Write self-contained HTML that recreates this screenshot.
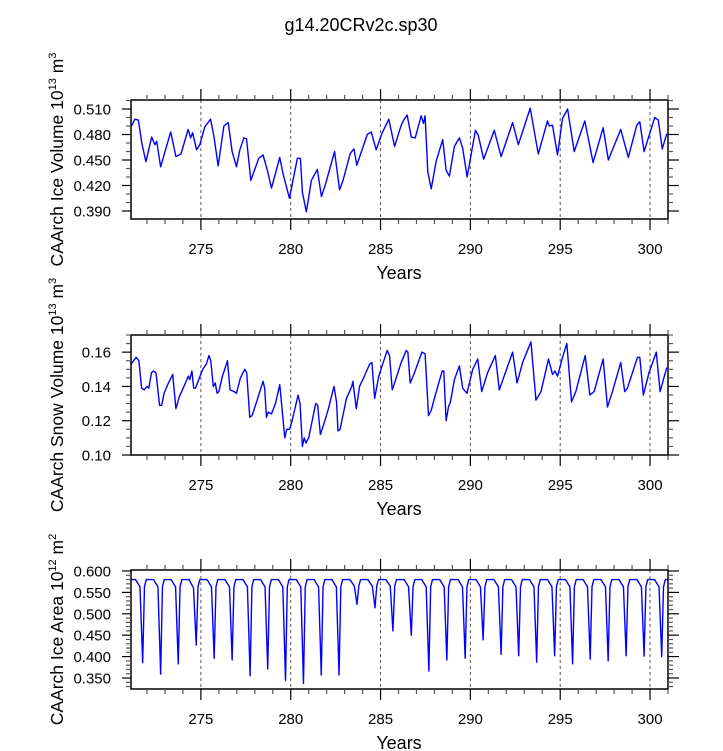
<!DOCTYPE html>
<html><head><meta charset="utf-8"><style>
html,body{margin:0;padding:0;background:#fff;}
svg{display:block;font-family:"Liberation Sans",Arial,sans-serif;}
</style></head><body>
<svg id="chart" width="723" height="751" viewBox="0 0 723 751" xmlns="http://www.w3.org/2000/svg">
<text x="361" y="31" font-size="18" text-anchor="middle">g14.20CRv2c.sp30</text>
</svg>
<script>
const xTickYears = [275, 280, 285, 290, 295, 300];
const iceVolTicks = ["0.390","0.420","0.450","0.480","0.510"];
const snowVolTicks = ["0.10","0.12","0.14","0.16"];
const areaTicks = ["0.350","0.400","0.450","0.500","0.550","0.600"];

const iceVolPts = [[271.11,.489],[271.33,.498],[271.52,.497],[271.71,.470],[271.94,.448],[272.26,.477],[272.44,.468],[272.54,.472],[272.76,.442],[273.32,.483],[273.61,.454],[273.89,.457],[274.29,.486],[274.43,.476],[274.54,.482],[274.76,.462],[274.94,.468],[275.22,.489],[275.54,.498],[275.74,.476],[275.96,.443],[276.28,.490],[276.39,.492],[276.52,.494],[276.74,.460],[276.98,.442],[277.17,.462],[277.39,.476],[277.54,.475],[277.78,.426],[278.22,.452],[278.46,.456],[278.71,.437],[278.93,.417],[279.39,.453],[279.57,.434],[279.93,.405],[280.37,.452],[280.54,.452],[280.65,.412],[280.87,.389],[281.15,.426],[281.48,.439],[281.71,.407],[281.93,.421],[282.44,.460],[282.72,.415],[282.91,.426],[283.32,.458],[283.52,.463],[283.68,.444],[284.26,.480],[284.48,.483],[284.76,.462],[285.07,.481],[285.46,.498],[285.78,.466],[286.15,.491],[286.29,.497],[286.48,.503],[286.71,.477],[286.93,.476],[287.26,.502],[287.39,.493],[287.48,.502],[287.63,.436],[287.82,.416],[288.09,.448],[288.46,.474],[288.65,.438],[288.83,.431],[289.11,.466],[289.39,.476],[289.57,.464],[289.82,.430],[290.28,.485],[290.44,.479],[290.74,.451],[291.33,.485],[291.71,.454],[292.35,.494],[292.67,.468],[293.33,.511],[293.78,.457],[294.29,.496],[294.39,.490],[294.57,.491],[294.85,.456],[295.13,.499],[295.41,.510],[295.78,.460],[296.37,.496],[296.83,.447],[297.39,.488],[297.68,.450],[298.37,.486],[298.79,.453],[299.26,.491],[299.43,.495],[299.67,.460],[300.26,.500],[300.46,.497],[300.68,.463],[300.93,.481]];

const snowVolPts = [[271.11,.153],[271.4,.157],[271.55,.155],[271.7,.139],[271.85,.138],[272.0,.140],[272.1,.139],[272.25,.148],[272.35,.149],[272.5,.148],[272.7,.129],[272.82,.129],[272.95,.136],[273.15,.141],[273.43,.147],[273.61,.127],[273.8,.134],[274.1,.141],[274.3,.146],[274.38,.144],[274.5,.149],[274.6,.139],[274.7,.139],[275.1,.150],[275.3,.153],[275.45,.158],[275.55,.155],[275.69,.140],[275.8,.142],[275.9,.136],[276.0,.137],[276.2,.146],[276.48,.155],[276.62,.138],[276.85,.137],[276.98,.136],[277.2,.145],[277.44,.150],[277.55,.148],[277.72,.122],[277.85,.123],[278.1,.131],[278.46,.143],[278.55,.139],[278.65,.122],[278.75,.125],[278.93,.124],[279.15,.130],[279.39,.141],[279.67,.110],[279.78,.115],[279.94,.115],[280.1,.121],[280.41,.135],[280.52,.130],[280.65,.105],[280.75,.110],[280.85,.107],[281.0,.110],[281.39,.130],[281.5,.129],[281.65,.112],[281.9,.120],[282.1,.127],[282.41,.140],[282.55,.131],[282.63,.114],[282.75,.115],[283.1,.133],[283.4,.140],[283.46,.143],[283.65,.127],[283.83,.140],[284.1,.146],[284.39,.153],[284.52,.154],[284.67,.133],[284.9,.146],[285.37,.161],[285.5,.158],[285.65,.138],[285.78,.142],[286.15,.154],[286.43,.161],[286.52,.160],[286.65,.142],[286.89,.148],[287.30,.160],[287.48,.159],[287.67,.123],[287.82,.126],[287.97,.132],[288.43,.149],[288.52,.149],[288.65,.120],[288.78,.128],[288.89,.131],[289.11,.144],[289.39,.152],[289.57,.139],[289.81,.136],[290.13,.150],[290.41,.156],[290.63,.137],[290.96,.148],[291.39,.158],[291.61,.138],[292.35,.160],[292.6,.142],[292.91,.154],[293.37,.166],[293.65,.132],[293.93,.137],[294.35,.156],[294.57,.147],[294.71,.149],[294.85,.146],[295.13,.157],[295.37,.165],[295.63,.131],[295.87,.137],[296.39,.158],[296.65,.135],[296.89,.137],[297.39,.156],[297.63,.128],[297.91,.137],[298.37,.154],[298.59,.137],[298.74,.139],[299.3,.157],[299.43,.157],[299.63,.135],[299.94,.148],[300.35,.160],[300.56,.137],[300.93,.151]];

const areaPts = [[271.11,.580],[271.36,.580],[271.61,.563],[271.76,.386],[271.86,.563],[271.96,.580],
[272.36,.580],[272.61,.563],[272.76,.359],[272.86,.563],[272.96,.580],
[273.34,.580],[273.59,.563],[273.74,.383],[273.84,.563],[273.94,.580],
[274.34,.580],[274.59,.560],[274.74,.427],[274.84,.563],[274.94,.580],
[275.34,.580],[275.59,.563],[275.74,.396],[275.84,.563],[275.94,.580],
[276.34,.580],[276.59,.563],[276.74,.392],[276.84,.563],[276.94,.580],
[277.34,.580],[277.59,.563],[277.74,.355],[277.84,.563],[277.94,.580],
[278.32,.580],[278.57,.563],[278.72,.371],[278.82,.563],[278.92,.580],
[279.31,.580],[279.56,.563],[279.71,.344],[279.81,.563],[279.91,.580],
[280.31,.580],[280.56,.563],[280.71,.337],[280.81,.563],[280.91,.580],
[281.30,.580],[281.55,.563],[281.70,.357],[281.80,.563],[281.90,.580],
[282.29,.580],[282.54,.563],[282.69,.357],[282.79,.563],[282.89,.580],
[283.29,.580],[283.54,.565],[283.69,.522],[283.79,.565],[283.89,.580],
[284.29,.580],[284.54,.565],[284.69,.514],[284.79,.565],[284.89,.580],
[285.29,.580],[285.54,.565],[285.69,.460],[285.79,.565],[285.89,.580],
[286.31,.580],[286.56,.563],[286.71,.450],[286.81,.563],[286.91,.580],
[287.29,.580],[287.54,.563],[287.69,.366],[287.79,.563],[287.89,.580],
[288.29,.580],[288.54,.563],[288.69,.392],[288.79,.563],[288.89,.580],
[289.31,.580],[289.56,.563],[289.71,.396],[289.81,.563],[289.91,.580],
[290.31,.580],[290.56,.563],[290.71,.439],[290.81,.563],[290.91,.580],
[291.31,.580],[291.56,.563],[291.71,.405],[291.81,.563],[291.91,.580],
[292.29,.580],[292.54,.563],[292.69,.402],[292.79,.563],[292.89,.580],
[293.29,.580],[293.54,.563],[293.69,.387],[293.79,.563],[293.89,.580],
[294.29,.580],[294.54,.563],[294.69,.402],[294.79,.563],[294.89,.580],
[295.29,.580],[295.54,.563],[295.69,.383],[295.79,.563],[295.89,.580],
[296.27,.580],[296.52,.563],[296.67,.394],[296.77,.563],[296.87,.580],
[297.27,.580],[297.52,.563],[297.67,.390],[297.77,.563],[297.87,.580],
[298.27,.580],[298.52,.563],[298.67,.402],[298.77,.563],[298.87,.580],
[299.27,.580],[299.52,.563],[299.67,.401],[299.77,.563],[299.87,.580],
[300.25,.580],[300.50,.563],[300.65,.400],[300.75,.563],[300.85,.580],[301.0,.580]];

const NS = "http://www.w3.org/2000/svg";
const svg = document.getElementById('chart');
const X0 = 131, X1 = 668, YMIN = 271.11, YMAX = 301.0;
function xs(t){ return X0 + (t - YMIN) / (YMAX - YMIN) * (X1 - X0); }
function mk(tag, attrs, parent){
  const e = document.createElementNS(NS, tag);
  for (const k in attrs) e.setAttribute(k, attrs[k]);
  (parent || svg).appendChild(e);
  return e;
}

const panels = [
  {key:'ice-volume', top:100, bot:219, vmin:0.3806, vmax:0.5206, ticks:iceVolTicks, minor:0.01, pts:iceVolPts,
   title:['CAArch Ice Volume 10','13',' m','3']},
  {key:'snow-volume', top:335, bot:455, vmin:0.10, vmax:0.17, ticks:snowVolTicks, minor:0.005, pts:snowVolPts,
   title:['CAArch Snow Volume 10','13',' m','3']},
  {key:'ice-area', top:570, bot:689, vmin:0.3243, vmax:0.6023, ticks:areaTicks, minor:0.01, pts:areaPts,
   title:['CAArch Ice Area 10','12',' m','2']}
];

panels.forEach(p => {
  const g = mk('g', {});
  
  
  const ys = v => p.bot - (v - p.vmin) / (p.vmax - p.vmin) * (p.bot - p.top);

  xTickYears.forEach(t => {
    const l = mk('line', {x1:xs(t), x2:xs(t), y1:p.top, y2:p.bot, stroke:'#555', 'stroke-width':1, 'stroke-dasharray':'3,3'}, g);
    
    
  });

  const d = p.pts.map((q,i) => (i ? 'L' : 'M') + xs(q[0]).toFixed(2) + ',' + ys(q[1]).toFixed(2)).join('');
  const path = mk('path', {d:d, fill:'none', stroke:'#0000ff', 'stroke-width':1.4, 'stroke-linejoin':'round'}, g);
  
  

  const fr = mk('rect', {x:X0, y:p.top, width:X1-X0, height:p.bot-p.top, fill:'none', stroke:'#000', 'stroke-width':1.5}, g);
  
  

  for (let yr = 272; yr <= 301; yr++) {
    const x = xs(yr);
    const major = yr % 5 === 0;
    const len = major ? 11 : 5;
    const col = major ? '#000' : '#555';
    mk('line', {x1:x, x2:x, y1:p.bot, y2:p.bot+len, stroke:col, 'stroke-width':1.2}, g);
    mk('line', {x1:x, x2:x, y1:p.top, y2:p.top-len, stroke:col, 'stroke-width':1.2}, g);
  }
  xTickYears.forEach(t => {
    const tx = mk('text', {x:xs(t), y:p.bot+35, 'font-size':15, 'text-anchor':'middle'}, g);
    
    
    tx.textContent = t;
  });
  const xt = mk('text', {x:399, y:p.bot+60, 'font-size':18, 'text-anchor':'middle'}, g);
  
  
  xt.textContent = 'Years';

  const n0 = Math.ceil(p.vmin / p.minor - 1e-6), n1 = Math.floor(p.vmax / p.minor + 1e-6);
  const majorVals = p.ticks.map(Number);
  for (let n = n0; n <= n1; n++) {
    const v = n * p.minor;
    const y = ys(v);
    const major = majorVals.some(m => Math.abs(m - v) < 1e-6);
    const col = major ? '#000' : '#555';
    mk('line', {x1:X0, x2:X0-(major?9:5), y1:y, y2:y, stroke:col, 'stroke-width':1.2}, g);
    mk('line', {x1:X1, x2:X1+(major?11:5), y1:y, y2:y, stroke:col, 'stroke-width':1.2}, g);
  }
  p.ticks.forEach(s => {
    const tx = mk('text', {x:111, y:ys(Number(s))+5.5, 'font-size':15, 'text-anchor':'end'}, g);
    
    
    tx.textContent = s;
  });

  const cy = (p.top + p.bot) / 2;
  const yt = mk('text', {x:0, y:0, 'font-size':17.5, 'text-anchor':'middle', transform:'translate(63,'+cy+') rotate(-90)'}, g);
  
  
  const a = mk('tspan', {}, yt); a.textContent = p.title[0];
  const b = mk('tspan', {'font-size':11, dy:-7}, yt); b.textContent = p.title[1];
  const c = mk('tspan', {dy:7}, yt); c.textContent = p.title[2];
  const e = mk('tspan', {'font-size':11, dy:-7}, yt); e.textContent = p.title[3];
});
</script>
</body></html>
